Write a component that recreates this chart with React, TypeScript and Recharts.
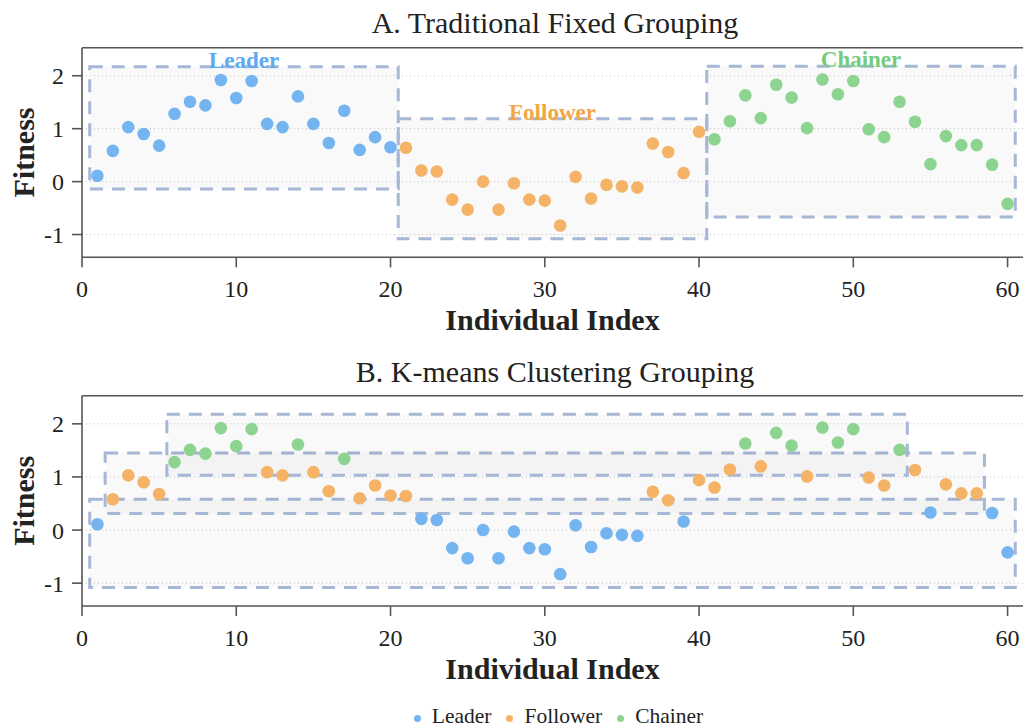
import React from 'react';
import {
  ScatterChart,
  Scatter,
  XAxis,
  YAxis,
  CartesianGrid,
  ReferenceArea,
  Legend,
} from 'recharts';

// ---------- data ----------
const fitness: number[] = [
  0.11, 0.58, 1.03, 0.9, 0.68, 1.28, 1.51, 1.44, 1.92, 1.58,
  1.9, 1.09, 1.03, 1.61, 1.09, 0.73, 1.34, 0.6, 0.84, 0.65,
  0.64, 0.21, 0.19, -0.34, -0.53, 0.0, -0.53, -0.03, -0.34, -0.36,
  -0.83, 0.09, -0.32, -0.06, -0.09, -0.11, 0.72, 0.56, 0.16, 0.94,
  0.8, 1.14, 1.63, 1.2, 1.83, 1.59, 1.01, 1.93, 1.65, 1.9,
  0.99, 0.84, 1.51, 1.13, 0.33, 0.86, 0.69, 0.69, 0.32, -0.42,
];

// L = Leader, F = Follower, C = Chainer
const fixedGroup: string[] =
  'LLLLLLLLLLLLLLLLLLLLFFFFFFFFFFFFFFFFFFFFCCCCCCCCCCCCCCCCCCCC'.split('');
const kmeansGroup: string[] =
  'LFFFFCCCCCCFFCFFCFFFFLLLLLLLLLLLLLLLFFLFFFCFCCFCCCFFCFLFFFLL'.split('');

const roleKeys = ['L', 'F', 'C'];
const roleNames: Record<string, string> = { L: 'Leader', F: 'Follower', C: 'Chainer' };
const roleColors: Record<string, string> = { L: '#74b5f1', F: '#f4b366', C: '#8cd490' };
const roleTextColors: Record<string, string> = { L: '#5eaaee', F: '#f2a646', C: '#76cb7c' };

const xTicks = [0, 10, 20, 30, 40, 50, 60];
const yTicks = [-1, 0, 1, 2];
const xDomain: [number, number] = [0, 61];
const yDomain: [number, number] = [-1.43, 2.53];

const titles = ['A. Traditional Fixed Grouping', 'B. K-means Clustering Grouping'];

// ---------- helpers ----------
const FONT = "'Liberation Serif', 'Times New Roman', serif";
const AXIS = '#555555';
const DOT_R = 6.3;

function pointsFor(group: string[], role: string) {
  const out: { x: number; y: number }[] = [];
  group.forEach((g, i) => {
    if (g === role) out.push({ x: i + 1, y: fitness[i] });
  });
  return out;
}

function boxFor(group: string[], role: string) {
  const pts = pointsFor(group, role);
  const xs = pts.map((p) => p.x);
  const ys = pts.map((p) => p.y);
  return {
    x1: Math.min(...xs) - 0.5,
    x2: Math.max(...xs) + 0.5,
    y1: Math.min(...ys) - 0.25,
    y2: Math.max(...ys) + 0.25,
  };
}

type PanelProps = {
  group: string[];
  height: number;
  marginTop: number;
  marginBottom: number;
  showLabels: boolean;
  showLegend: boolean;
};

function Panel({ group, height, marginTop, marginBottom, showLabels, showLegend }: PanelProps) {
  return (
    <ScatterChart
      width={1032}
      height={height}
      margin={{ top: marginTop, right: 9, bottom: marginBottom, left: 22 }}
    >
      <CartesianGrid
        horizontal
        vertical={false}
        stroke="#c4c4c4"
        strokeDasharray="1 3"
        strokeWidth={1}
      />
      <XAxis
        type="number"
        dataKey="x"
        domain={xDomain}
        ticks={xTicks}
        allowDataOverflow
        height={75}
        tickSize={10}
        tickMargin={13}
        axisLine={{ stroke: AXIS, strokeWidth: 1.6 }}
        tickLine={{ stroke: AXIS, strokeWidth: 1.6 }}
        tick={{ fill: '#222', fontSize: 24, fontFamily: FONT }}
        label={{
          value: 'Individual Index',
          position: 'insideBottom',
          offset: 2.5,
          style: { fontSize: 30, fontWeight: 'bold', fill: '#222', fontFamily: FONT },
        }}
      />
      <XAxis
        xAxisId="top"
        orientation="top"
        type="number"
        domain={xDomain}
        ticks={xTicks}
        allowDataOverflow
        height={10}
        tickSize={10}
        tickFormatter={() => ''}
        axisLine={{ stroke: AXIS, strokeWidth: 1.6 }}
        tickLine={{ stroke: AXIS, strokeWidth: 1.6 }}
      />
      <YAxis
        type="number"
        dataKey="y"
        domain={yDomain}
        ticks={yTicks}
        allowDataOverflow
        width={60}
        tickSize={10}
        tickMargin={8}
        axisLine={{ stroke: AXIS, strokeWidth: 1.6 }}
        tickLine={{ stroke: AXIS, strokeWidth: 1.6 }}
        tick={{ fill: '#222', fontSize: 24, fontFamily: FONT }}
        label={{
          value: 'Fitness',
          angle: -90,
          position: 'insideLeft',
          offset: 1,
          style: {
            textAnchor: 'middle',
            fontSize: 30,
            fontWeight: 'bold',
            fill: '#222',
            fontFamily: FONT,
          },
        }}
      />
      <YAxis
        yAxisId="right"
        orientation="right"
        type="number"
        domain={yDomain}
        ticks={yTicks}
        allowDataOverflow
        width={0}
        tick={false}
        tickLine={false}
        axisLine={{ stroke: AXIS, strokeWidth: 1.6 }}
      />
      {roleKeys.map((r) => {
        const b = boxFor(group, r);
        return (
          <ReferenceArea
            key={'box' + r}
            x1={b.x1}
            x2={b.x2}
            y1={b.y1}
            y2={b.y2}
            fill="#000000"
            fillOpacity={0.025}
            stroke="#a7b7d6"
            strokeWidth={3}
            strokeDasharray="13 9"
            ifOverflow="visible"
            label={
              showLabels
                ? {
                    value: roleNames[r],
                    position: 'top',
                    offset: -1,
                    fill: roleTextColors[r],
                    fontSize: 23,
                    fontWeight: 'bold',
                    fontFamily: FONT,
                  }
                : undefined
            }
          />
        );
      })}
      {roleKeys.map((r) => (
        <Scatter
          key={'s' + r}
          name={roleNames[r]}
          data={pointsFor(group, r)}
          fill={roleColors[r]}
          isAnimationActive={false}
          legendType="circle"
          shape={(p: any) => <circle cx={p.cx} cy={p.cy} r={DOT_R} fill={roleColors[r]} />}
        />
      ))}
      {showLegend && (
        <Legend
          verticalAlign="middle"
          align="center"
          iconType="circle"
          iconSize={7}
          itemSorter={(item: any) => roleKeys.map((k) => roleNames[k]).indexOf(item.value)}
          wrapperStyle={{
            top: 364,
            left: 50,
            width: 1032,
            fontFamily: FONT,
            fontSize: 21.5,
          }}
          formatter={(value: string) => (
            <span style={{ color: '#222', marginLeft: 7, marginRight: 5, fontFamily: FONT }}>
              {value}
            </span>
          )}
        />
      )}
    </ScatterChart>
  );
}

export default function App() {
  return (
    <div
      style={{
        position: 'absolute',
        left: 0,
        top: 0,
        width: 1032,
        height: 728,
        background: '#ffffff',
        overflow: 'hidden',
        fontFamily: FONT,
      }}
    >
      <style>{`
        .recharts-wrapper text, .recharts-wrapper tspan, .recharts-legend-wrapper, .recharts-legend-item-text {
          font-family: 'Liberation Serif', 'Times New Roman', serif !important;
        }
      `}</style>
      <div style={{ position: 'absolute', left: 0, top: 0 }}>
        <Panel
          group={fixedGroup}
          height={340}
          marginTop={37.7}
          marginBottom={7.7}
          showLabels
          showLegend={false}
        />
      </div>
      <div style={{ position: 'absolute', left: 0, top: 340 }}>
        <Panel
          group={kmeansGroup}
          height={388}
          marginTop={45.7}
          marginBottom={47}
          showLabels={false}
          showLegend
        />
      </div>
      <svg
        width={1032}
        height={728}
        style={{ position: 'absolute', left: 0, top: 0, pointerEvents: 'none' }}
      >
        <text x={555} y={32.5} textAnchor="middle" fontFamily={FONT} fontSize={30} fill="#222">
          {titles[0]}
        </text>
        <text x={555} y={381.5} textAnchor="middle" fontFamily={FONT} fontSize={30} fill="#222">
          {titles[1]}
        </text>
      </svg>
    </div>
  );
}
